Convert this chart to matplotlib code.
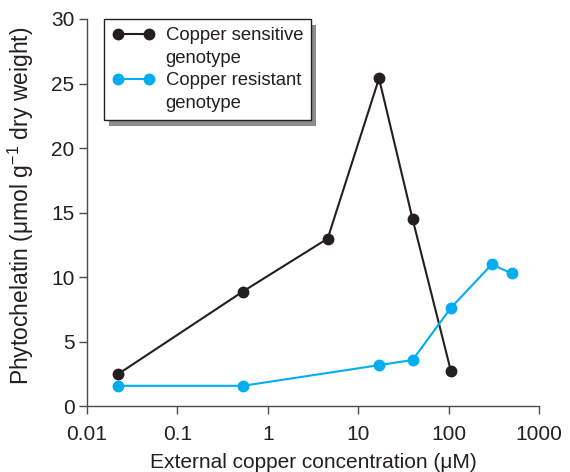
import matplotlib
matplotlib.use("Agg")
import matplotlib.pyplot as plt
import matplotlib.patheffects as pe
from matplotlib.lines import Line2D

# data
sens_x = [0.022, 0.53, 4.6, 17, 40, 106]
sens_y = [2.5, 8.9, 13.0, 25.4, 14.5, 2.75]
res_x = [0.022, 0.53, 17, 40, 105, 300, 500]
res_y = [1.6, 1.6, 3.2, 3.6, 7.6, 11.0, 10.3]

x_ticks = [0.01, 0.1, 1, 10, 100, 1000]
x_ticklabels = ["0.01", "0.1", "1", "10", "100", "1000"]
y_ticks = [0, 5, 10, 15, 20, 25, 30]

dark = "#231f20"
cyan = "#00aeef"

plt.rcParams["font.family"] = ["Liberation Sans", "DejaVu Sans"]
plt.rcParams["mathtext.fontset"] = "custom"
plt.rcParams["mathtext.rm"] = "Liberation Sans"
plt.rcParams["mathtext.it"] = "Liberation Sans:italic"
plt.rcParams["text.color"] = dark

fig = plt.figure(figsize=(5.7, 4.72), dpi=100)
ax = fig.add_axes([0.1526, 0.1388, 0.793, 0.821])

ax.plot(sens_x, sens_y, color=dark, lw=1.5, marker="o", ms=7.5, zorder=3)
ax.plot(res_x, res_y, color=cyan, lw=1.5, marker="o", ms=7.5, zorder=3)

ax.set_xscale("log")
ax.set_xlim(0.01, 1000)
ax.set_ylim(0, 30)
ax.set_xticks(x_ticks)
ax.set_xticklabels(x_ticklabels)
ax.set_yticks(y_ticks)
ax.minorticks_off()

for s in ["top", "right"]:
    ax.spines[s].set_visible(False)
for s in ["left", "bottom"]:
    ax.spines[s].set_color("#4a4a4a")
    ax.spines[s].set_linewidth(1.0)
ax.tick_params(colors="#4a4a4a", labelcolor=dark, labelsize=15, length=6, width=1.0, pad=3)
ax.tick_params(axis="x", pad=7)

ax.set_xlabel("External copper concentration (μM)", fontsize=15, labelpad=7, color=dark)
ax.set_ylabel(r"Phytochelatin (μmol g$^{-1}$ dry weight)", fontsize=16.5, color=dark)
ax.yaxis.set_label_coords(-0.113, 0.517)

# legend: label lines split so the handle sits on the first line
blank = Line2D([], [], linestyle="none")
h1 = Line2D([], [], color=dark, lw=1.5, marker="o", ms=7.5)
h2 = Line2D([], [], color=cyan, lw=1.5, marker="o", ms=7.5)
leg = ax.legend([h1, blank, h2, blank],
                ["Copper sensitive", "genotype", "Copper resistant", "genotype"],
                loc="upper left", bbox_to_anchor=(0.038, 1.0), fontsize=13.3,
                numpoints=2, handlelength=2.28, handletextpad=0.6,
                labelspacing=0.3, borderpad=0.45, borderaxespad=0,
                fancybox=False, frameon=True, edgecolor=dark, framealpha=1)
leg.get_frame().set_linewidth(1.0)
leg.get_frame().set_path_effects([
    pe.SimplePatchShadow(offset=(3.5, -4.2), shadow_rgbFace="0.55", alpha=1.0),
    pe.Normal()])

fig.savefig("out.png", dpi=100)
